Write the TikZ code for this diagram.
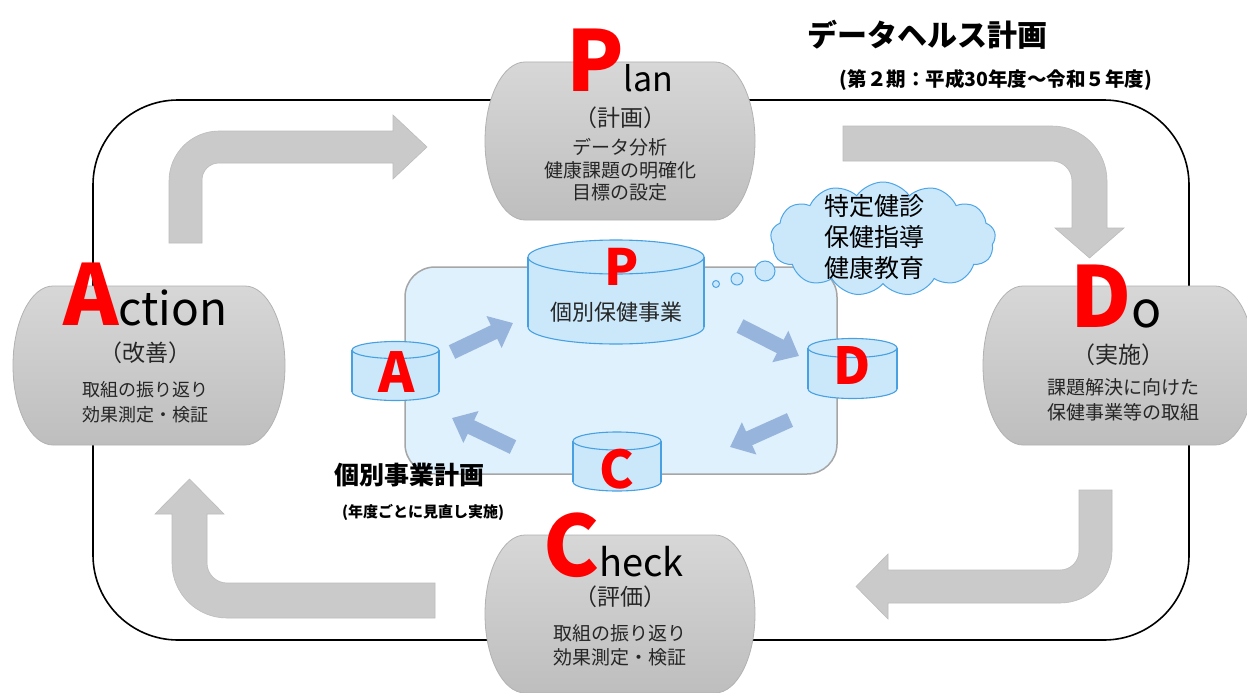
\documentclass[tikz,border=0pt]{standalone}
\usepackage{fontspec}
\setmainfont{Noto Sans CJK JP}
\usetikzlibrary{shapes.symbols,arrows.meta}
\definecolor{pillA}{RGB}{215,215,215}
\definecolor{pillB}{RGB}{190,190,190}
\definecolor{pillline}{RGB}{178,178,178}
\definecolor{garrow}{RGB}{202,202,202}
\definecolor{garrowline}{RGB}{188,188,188}
\definecolor{innerbg}{RGB}{223,241,253}
\definecolor{innerline}{RGB}{166,166,166}
\definecolor{cylfillc}{RGB}{203,232,251}
\definecolor{cyllinec}{RGB}{70,160,225}
\definecolor{cloudline}{RGB}{78,166,230}
\definecolor{barrowc}{RGB}{150,180,220}
\definecolor{txtc}{RGB}{38,38,38}
\newcommand\fsz[1]{\fontsize{#1}{#1}\selectfont}
\newcommand\redcap[1]{{\color{red}\fontsize{84}{84}\selectfont\bfseries #1}}
\newcommand\pillshape[5]{%
  \pgfmathsetmacro\pym{(#2+#4)/2}%
  \pgfmathsetmacro\pry{(#4-#2)/2}%
  \path[pill] ({#1+#5},#2) -- ({#3-#5},#2)
    .. controls ({#3-#5+0.552*#5},#2) and (#3,{\pym-0.552*\pry}) .. (#3,\pym)
    .. controls (#3,{\pym+0.552*\pry}) and ({#3-#5+0.552*#5},#4) .. ({#3-#5},#4)
    -- ({#1+#5},#4)
    .. controls ({#1+#5-0.552*#5},#4) and (#1,{\pym+0.552*\pry}) .. (#1,\pym)
    .. controls (#1,{\pym-0.552*\pry}) and ({#1+#5-0.552*#5},#2) .. ({#1+#5},#2) -- cycle;}
\newcommand\mycyl[5]{%
  \path[cylf,cyld] (#1,#4) ellipse [x radius=#2, y radius=#5];
  \fill[cylf] ({#1-#2},#3) rectangle ({#1+#2},#4);
  \draw[cyld] ({#1-#2},#3) -- ({#1-#2},#4) ({#1+#2},#3) -- ({#1+#2},#4);
  \path[cylf,cyld] (#1,#3) ellipse [x radius=#2, y radius=#5];}
\begin{document}
\begin{tikzpicture}[x=1pt,y=-1pt,
  pill/.style={top color=pillA,bottom color=pillB,draw=pillline,line width=0.8pt},
  garr/.style={fill=garrow,draw=garrowline,line width=0.6pt},
  cylf/.style={fill=cylfillc},
  cyld/.style={draw=cyllinec,line width=1.1pt},
  barr/.style={line width=15pt,draw=barrowc,-{Triangle[length=21pt,width=34pt]}},
  jp/.style={inner sep=0pt,text=txtc,align=center},
  word/.style={inner sep=0pt,anchor=base west},
  letter/.style={inner sep=0pt,anchor=base,text=red,font=\bfseries},
]
\useasboundingbox (0,0) rectangle (1247,693);
\clip (0,0) rectangle (1247,693);
\fill[white] (0,0) rectangle (1247,693);
% outer cycle frame
\draw[line width=1.6pt,rounded corners=85pt] (93,100) rectangle (1189,640);
% gray block arrows
\path[garr] (169,243) -- (169,181) .. controls (169,153.4) and (191.4,131) .. (219,131)
  -- (393,131) -- (393,115) -- (427,147) -- (393,179) -- (393,163) -- (219,163)
  .. controls (209.6,163) and (202,170.6) .. (202,180) -- (202,243) -- cycle;
\path[garr] (843,126) -- (1052,126) .. controls (1082.4,126) and (1107,150.6) .. (1107,181)
  -- (1107,228) -- (1124,228) -- (1089.5,258) -- (1055,228) -- (1072,228) -- (1072,181)
  .. controls (1072,170) and (1063,161) .. (1052,161) -- (843,161) -- cycle;
\path[garr] (1079,490) -- (1112,490) -- (1112,551) .. controls (1112,579.7) and (1088.7,603) .. (1060,603)
  -- (888,603) -- (888,619) -- (856,586.5) -- (888,554) -- (888,570) -- (1060,570)
  .. controls (1070.5,570) and (1079,561.5) .. (1079,551) -- cycle;
\path[garr] (435,583) -- (227,583) .. controls (216,583) and (207,574) .. (207,563)
  -- (207,514) -- (224,514) -- (189.5,479) -- (155,514) -- (172,514) -- (172,563)
  .. controls (172,593.4) and (196.6,618) .. (227,618) -- (435,618) -- cycle;
% pills
\pillshape{485}{62}{755}{220}{40}
\pillshape{13}{286}{285}{445}{40}
\pillshape{983}{286}{1255}{445}{40}
\pillshape{485}{535}{755}{693}{40}
% inner plan box
\draw[fill=innerbg,draw=innerline,line width=1.5pt,rounded corners=30pt] (405,267) rectangle (837,474);
% blue arrows
\coordinate (a1) at (452,352); \coordinate (a2) at (513,323);
\coordinate (b1) at (740,326); \coordinate (b2) at (799,356);
\coordinate (c1) at (790,420); \coordinate (c2) at (730,447);
\coordinate (d1) at (513,447); \coordinate (d2) at (452,418);
\draw[barr] (a1) -- (a2);
\draw[barr] (b1) -- (b2);
\draw[barr] (c1) -- (c2);
\draw[barr] (d1) -- (d2);
% cylinders
\mycyl{616}{88}{257}{327}{17}
\mycyl{395.5}{43.5}{350}{392}{8.5}
\mycyl{852.5}{44.5}{348}{389}{9.5}
\mycyl{617}{44}{441}{482}{9}
\node (lP) [letter,font=\bfseries\fsz{50}] at (622,285) {P};
\node (lA) [letter,font=\bfseries\fsz{55}] at (397,392) {A};
\node (lD) [letter,font=\bfseries\fsz{51}] at (852,384) {D};
\node (lC) [letter,font=\bfseries\fsz{52}] at (617,488) {C};
\node (kobetsu) [jp,font=\fsz{22}] at (616,312) {個別保健事業};
% cloud
\node (cloud) [cloud, cloud puffs=13, cloud puff arc=110, aspect=2, minimum width=225pt,
  minimum height=114pt, fill=cylfillc, draw=cloudline, line width=1pt, inner sep=0pt] at (883,239) {};
\draw[fill=cylfillc,draw=cloudline,line width=1pt] (765,271) circle[radius=10];
\draw[fill=cylfillc,draw=cloudline,line width=1pt] (737,279) circle[radius=6];
\draw[fill=cylfillc,draw=cloudline,line width=1pt] (716,284) circle[radius=3.5];
\node (cloudtxt) [jp,text=black,font=\fontsize{25}{31}\selectfont] at (874,237) {特定健診\\保健指導\\健康教育};
% big words
\node (pT) [word] at (566,92) {\redcap{P}{\fsz{34}lan}};
\node (aT) [word] at (63,325) {\redcap{A}{\fsz{46}ction}};
\node (dT) [word] at (1070,327) {\redcap{D}{\fsz{50}o}};
\node (cT) [word] at (543,576) {\redcap{C}{\fsz{38}heck}};
% sub texts
\node (pS) [jp,font=\fsz{23}] at (620,118) {（計画）};
\node (pL) [jp,font=\fontsize{19}{22.5}\selectfont] at (620,170) {データ分析\\健康課題の明確化\\目標の設定};
\node (aS) [jp,font=\fsz{23}] at (145,353) {（改善）};
\node (aL) [jp,font=\fontsize{18}{25}\selectfont] at (145,402) {取組の振り返り\\効果測定・検証};
\node (dS) [jp,font=\fsz{23}] at (1118,355) {（実施）};
\node (dL) [jp,font=\fontsize{19}{25}\selectfont] at (1123,400) {課題解決に向けた\\保健事業等の取組};
\node (cS) [jp,font=\fsz{23}] at (620,597) {（評価）};
\node (cL) [jp,font=\fontsize{19}{24}\selectfont] at (620,645) {取組の振り返り\\効果測定・検証};
% titles
\node (title) [inner sep=0pt,font=\bfseries\fsz{30}] at (927,35) {データヘルス計画};
\node (period) [inner sep=0pt,font=\bfseries\fsz{19.5}] at (996,80) {(第２期：平成30年度～令和５年度)};
\node (kplan) [inner sep=0pt,font=\bfseries\fsz{25}] at (409,475) {個別事業計画};
\node (kyear) [inner sep=0pt,font=\bfseries\fsz{15}] at (423,512) {(年度ごとに見直し実施)};
\end{tikzpicture}
\end{document}
